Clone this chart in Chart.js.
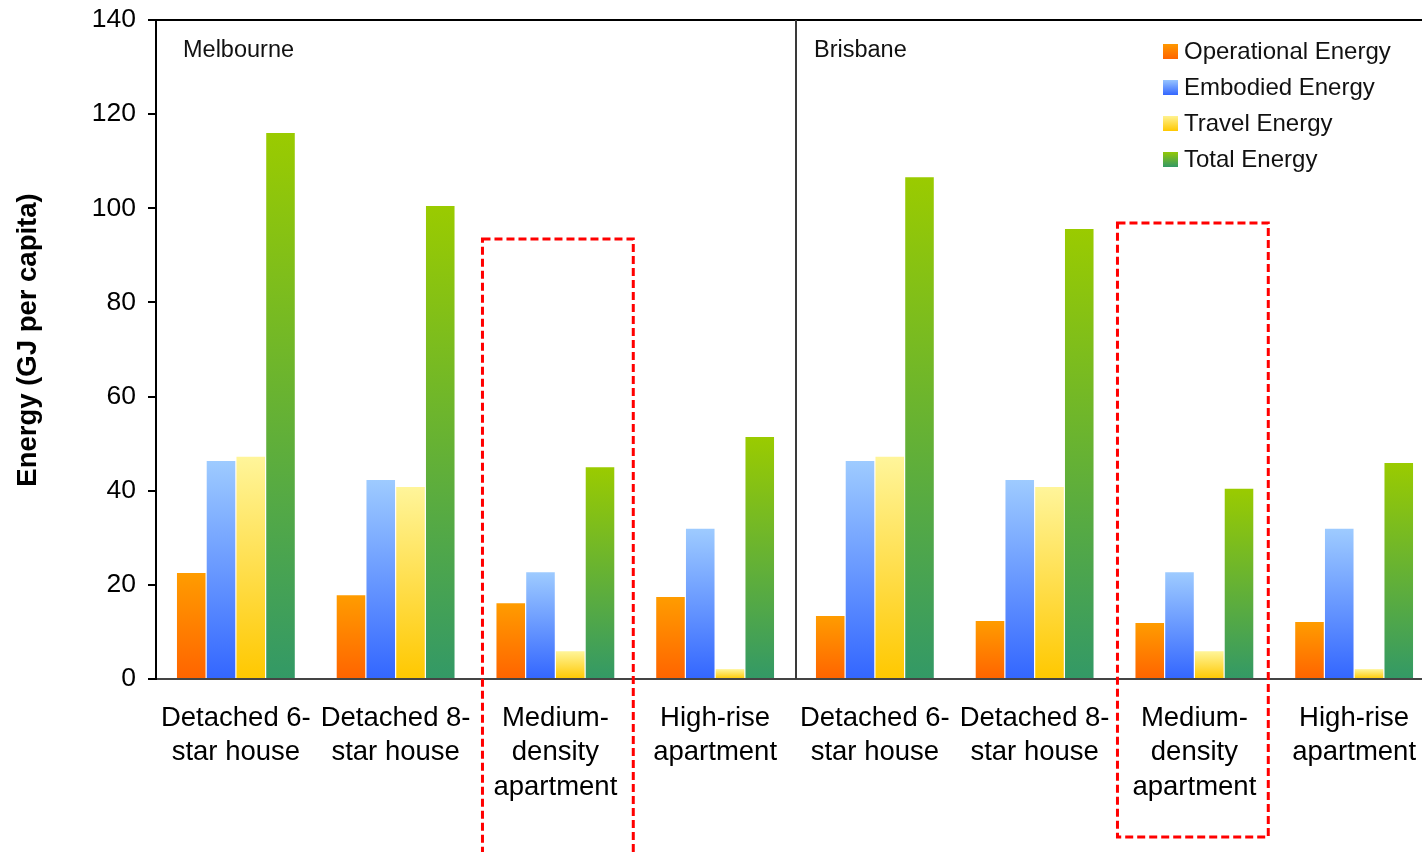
<!DOCTYPE html>
<html>
<head>
<meta charset="utf-8">
<title>Energy per capita by dwelling type</title>
<script src="https://cdn.jsdelivr.net/npm/chart.js@4/dist/chart.umd.min.js"></script>
<style>
  html, body { margin: 0; padding: 0; background: #fff; overflow: hidden; }
  #wrap { width: 1440px; height: 852px; }
</style>
</head>
<body>
<div id="wrap"><canvas id="c" width="1440" height="852"></canvas></div>
<script>
// Dwelling types, shown for Melbourne (first four) and Brisbane (last four)
const categories = [
  ['Detached 6-', 'star house'], ['Detached 8-', 'star house'],
  ['Medium-', 'density', 'apartment'], ['High-rise', 'apartment'],
  ['Detached 6-', 'star house'], ['Detached 8-', 'star house'],
  ['Medium-', 'density', 'apartment'], ['High-rise', 'apartment']
];
const cities = ['Melbourne', 'Brisbane'];

// Energy, GJ per capita
const operationalEnergy = [22.5, 17.8, 16.1, 17.4, 13.4, 12.3, 11.9, 12.1];
const embodiedEnergy    = [46.3, 42.3, 22.7, 31.9, 46.3, 42.3, 22.7, 31.9];
const travelEnergy      = [47.2, 40.8, 5.9, 2.1, 47.2, 40.8, 5.9, 2.1];
const totalEnergy       = [116.0, 100.5, 45.0, 51.4, 106.6, 95.6, 40.4, 45.9];

const yTicks = [0, 20, 40, 60, 80, 100, 120, 140];

// Medium-density groups outlined in each city (category index, top of box in GJ)
const highlightIndex = [2, 6];
const highlightTop = [93.5, 96.9];

const FONT = '"Liberation Sans", Arial, sans-serif';

// top colour, bottom colour for each series
const palette = {
  operational: ['#ff9c00', '#ff6400'],
  embodied:    ['#9ecbff', '#3366ff'],
  travel:      ['#fff59a', '#ffc800'],
  total:       ['#9acb00', '#339966']
};

function barGradient(stops) {
  return (ctx) => {
    const chart = ctx.chart;
    const y = chart.scales && chart.scales.y;
    if (!chart.chartArea || !y || !ctx.parsed) return stops[1];
    const top = y.getPixelForValue(ctx.parsed.y);
    const base = y.getPixelForValue(0);
    if (!isFinite(top) || !isFinite(base) || top === base) return stops[1];
    const g = chart.ctx.createLinearGradient(0, top, 0, base);
    g.addColorStop(0, stops[0]);
    g.addColorStop(1, stops[1]);
    return g;
  };
}

function series(label, data, stops) {
  return {
    label, data,
    backgroundColor: barGradient(stops),
    legendStops: stops,
    borderWidth: 0,
    barPercentage: 0.96,
    categoryPercentage: 0.745
  };
}

// Frame, city divider, city names, axis title, legend and dashed outlines
const decorations = {
  id: 'decorations',
  afterDatasetsDraw(chart) {
    const { ctx, chartArea: a, scales: { x } } = chart;
    ctx.save();

    // top frame line
    ctx.strokeStyle = '#000';
    ctx.lineWidth = 2;
    ctx.beginPath();
    ctx.moveTo(a.left, a.top);
    ctx.lineTo(a.right, a.top);
    ctx.stroke();

    // divider between the two cities
    const mid = (x.getPixelForValue(3) + x.getPixelForValue(4)) / 2 + 1;
    ctx.strokeStyle = '#3a3a3a';
    ctx.beginPath();
    ctx.moveTo(mid, a.top);
    ctx.lineTo(mid, a.bottom);
    ctx.stroke();

    // city names, one in each half
    ctx.fillStyle = '#111';
    ctx.font = '23.5px ' + FONT;
    ctx.textAlign = 'left';
    ctx.textBaseline = 'alphabetic';
    const nameX = [a.left + 27, mid + 18];
    cities.forEach((name, i) => ctx.fillText(name, nameX[i], 57));

    // y axis title
    ctx.save();
    ctx.translate(28, 340);
    ctx.rotate(-Math.PI / 2);
    ctx.font = 'bold 27.5px ' + FONT;
    ctx.textAlign = 'center';
    ctx.textBaseline = 'middle';
    ctx.fillStyle = '#000';
    ctx.fillText('Energy (GJ per capita)', 0, 0);
    ctx.restore();

    // legend
    ctx.font = '24px ' + FONT;
    ctx.textBaseline = 'middle';
    chart.data.datasets.forEach((ds, i) => {
      const cy = 51 + i * 36;
      const g = ctx.createLinearGradient(0, cy - 8, 0, cy + 8);
      g.addColorStop(0, ds.legendStops[0]);
      g.addColorStop(1, ds.legendStops[1]);
      ctx.fillStyle = g;
      ctx.fillRect(1163, cy - 7, 15, 15);
      ctx.fillStyle = '#111';
      ctx.fillText(ds.label, 1184, cy + 1);
    });

    ctx.restore();
  },
  afterDraw(chart) {
    const { ctx, chartArea: a, scales: { x, y } } = chart;
    const step = x.getPixelForValue(1) - x.getPixelForValue(0);
    const bottoms = [a.bottom + 185, a.bottom + 158];
    const shift = [2.5, -1.5];
    ctx.save();
    ctx.strokeStyle = '#ff0000';
    ctx.lineWidth = 3;
    ctx.setLineDash([8, 4]);
    highlightIndex.forEach((idx, i) => {
      const cx = x.getPixelForValue(idx) + shift[i];
      const half = step * 0.472;
      const top = y.getPixelForValue(highlightTop[i]);
      ctx.strokeRect(cx - half, top, half * 2, bottoms[i] - top);
    });
    ctx.restore();
  }
};

new Chart(document.getElementById('c'), {
  type: 'bar',
  data: {
    labels: categories,
    datasets: [
      series('Operational Energy', operationalEnergy, palette.operational),
      series('Embodied Energy', embodiedEnergy, palette.embodied),
      series('Travel Energy', travelEnergy, palette.travel),
      series('Total Energy', totalEnergy, palette.total)
    ]
  },
  options: {
    responsive: false,
    animation: false,
    events: [],
    layout: { padding: { top: 20, right: 6, left: 0, bottom: 0 } },
    plugins: {
      legend: { display: false },
      tooltip: { enabled: false }
    },
    scales: {
      x: {
        grid: { display: false, drawTicks: false },
        border: { display: true, color: '#444', width: 2 },
        ticks: {
          color: '#000',
          padding: 22,
          maxRotation: 0,
          autoSkip: false,
          font: { family: FONT, size: 27.5, lineHeight: 1.25 }
        },
        afterFit(scale) { scale.height = 173; }
      },
      y: {
        min: 0,
        max: 140,
        afterBuildTicks(scale) { scale.ticks = yTicks.map(v => ({ value: v })); },
        grid: { drawOnChartArea: false, drawTicks: true, tickLength: 8, color: '#000', lineWidth: 2 },
        border: { display: true, color: '#000', width: 2 },
        ticks: {
          color: '#000',
          padding: 12,
          font: { family: FONT, size: 26.5 }
        },
        afterFit(scale) {
          scale.width = 156;
          scale.paddingTop = 0;
          scale.paddingBottom = 0;
        }
      }
    }
  },
  plugins: [decorations]
});
</script>
</body>
</html>
